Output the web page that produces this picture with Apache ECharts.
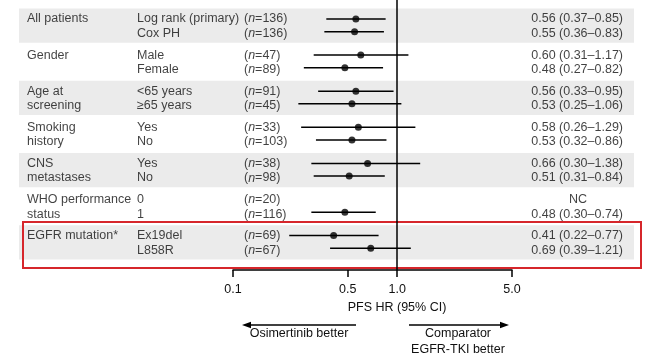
<!DOCTYPE html>
<html><head><meta charset="utf-8">
<script src="https://cdn.jsdelivr.net/npm/echarts@6/dist/echarts.min.js"></script>
<style>html,body{margin:0;padding:0;background:#fff}#c{width:650px;height:362px}</style>
</head><body><div id="c"></div><script>
// ---- data ----
const groupLabels = [['All patients'], ['Gender'], ['Age at', 'screening'], ['Smoking', 'history'], ['CNS', 'metastases'], ['WHO performance', 'status'], ['EGFR mutation*']];
const subgroups = [['Log rank (primary)', 'Cox PH'], ['Male', 'Female'], ['<65 years', '≥65 years'], ['Yes', 'No'], ['Yes', 'No'], ['0', '1'], ['Ex19del', 'L858R']];
const nValues = [[136, 136], [47, 89], [91, 45], [33, 103], [38, 98], [20, 116], [69, 67]];
const hrValues = [[0.56, 0.55], [0.60, 0.48], [0.56, 0.53], [0.58, 0.53], [0.66, 0.51], [null, 0.48], [0.41, 0.69]];
const ciLow = [[0.37, 0.36], [0.31, 0.27], [0.33, 0.25], [0.26, 0.32], [0.30, 0.31], [null, 0.30], [0.22, 0.39]];
const ciHigh = [[0.85, 0.83], [1.17, 0.82], [0.95, 1.06], [1.29, 0.86], [1.38, 0.84], [null, 0.74], [0.77, 1.21]];
const shadedGroups = [0, 2, 4, 6];
const highlightGroup = 6;
const tickValues = [0.1, 0.5, 1, 5];
const tickLabels = ['0.1', '0.5', '1.0', '5.0'];
const axisTitle = 'PFS HR (95% CI)';
const leftArrowText = 'Osimertinib better';
const rightArrowText = 'Comparator\nEGFR-TKI better';

// ---- layout ----
const FONT = '"Liberation Sans", Arial, Helvetica, sans-serif';
const FS = 12.5;
const TXT = '#111';
const PX_GROUP = 36.1, FIRST = 19, AXIS_Y = 270;
const yMin = -FIRST / PX_GROUP, yMax = (AXIS_Y - FIRST) / PX_GROUP;
const textOff = 0.405, dotOff = 0.35;
const colGroup = 27, colSub = 137, colN = 244, colRes = 623, colNC = 578;

const chart = echarts.init(document.getElementById('c'), null, {renderer: 'canvas'});

function textSeries(data, align) {
  return {
    type: 'scatter', xAxisIndex: 0, yAxisIndex: 0, symbolSize: 0, silent: true, z: 5,
    data: data,
    label: {
      show: true, position: 'inside', align: align, verticalAlign: 'middle',
      fontFamily: FONT, fontSize: FS, color: TXT, lineHeight: FS,
      formatter: p => p.data[2],
      rich: {i: {fontStyle: 'italic', fontFamily: FONT, fontSize: FS, color: TXT}}
    }
  };
}

const groupText = [], subText = [], nText = [], resText = [], ncText = [];
const ciData = [], dotData = [];
groupLabels.forEach((lines, g) => {
  lines.forEach((t, s) => groupText.push([colGroup, g + s * textOff, t]));
  subgroups[g].forEach((t, s) => {
    const y = g + s * textOff;
    subText.push([colSub, y, t]);
    nText.push([colN, y, '({i|n}=' + nValues[g][s] + ')']);
    if (hrValues[g][s] == null) {
      ncText.push([colNC, y, 'NC']);
    } else {
      resText.push([colRes, y, hrValues[g][s].toFixed(2) + ' (' + ciLow[g][s].toFixed(2) + '–' + ciHigh[g][s].toFixed(2) + ')']);
      ciData.push([ciLow[g][s], ciHigh[g][s], g + s * dotOff]);
      dotData.push([hrValues[g][s], g + s * dotOff]);
    }
  });
});

const bandAreas = shadedGroups.map(g => [{xAxis: 19, yAxis: g - 0.29}, {xAxis: 634, yAxis: g + 0.66}]);

const option = {
  animation: false,
  backgroundColor: '#fff',
  grid: [
    {left: 0, right: 0, top: 0, height: AXIS_Y},
    {left: 233, right: 138, top: 0, height: AXIS_Y}
  ],
  xAxis: [
    {gridIndex: 0, type: 'value', min: 0, max: 650, show: false},
    {gridIndex: 1, type: 'log', logBase: 10, min: 0.1, max: 5, position: 'bottom',
     axisLine: {show: true, onZero: false, lineStyle: {color: '#000', width: 1.5}},
     axisTick: {show: true, inside: false, length: 7, lineStyle: {color: '#000', width: 1.5}, customValues: tickValues},
     axisLabel: {show: true, margin: 13, fontFamily: FONT, fontSize: FS, color: TXT, customValues: tickValues,
                 formatter: v => { const i = tickValues.findIndex(t => Math.abs(t - v) < 1e-6); return i >= 0 ? tickLabels[i] : ''; }},
     splitLine: {show: false}, minorTick: {show: false}}
  ],
  yAxis: [
    {gridIndex: 0, type: 'value', inverse: true, min: yMin, max: yMax, show: false},
    {gridIndex: 1, type: 'value', inverse: true, min: yMin, max: yMax, show: false}
  ],
  series: [
    {type: 'scatter', xAxisIndex: 0, yAxisIndex: 0, data: [], silent: true, z: 1,
     markArea: {silent: true, itemStyle: {color: '#ebebeb'}, data: bandAreas}},
    {type: 'scatter', xAxisIndex: 0, yAxisIndex: 0, data: [], silent: true, z: 8,
     markArea: {silent: true, itemStyle: {color: 'rgba(0,0,0,0)', borderColor: '#d6262b', borderWidth: 2},
       data: [[{xAxis: 23, yAxis: highlightGroup - 0.377}, {xAxis: 641, yAxis: highlightGroup + 0.9}]]}},
    textSeries(groupText, 'left'),
    textSeries(subText, 'left'),
    textSeries(nText, 'left'),
    textSeries(resText, 'right'),
    textSeries(ncText, 'center'),
    {type: 'custom', xAxisIndex: 1, yAxisIndex: 1, data: ciData, silent: true, z: 6,
     encode: {x: [0, 1], y: 2},
     renderItem: (params, api) => {
       const a = api.coord([api.value(0), api.value(2)]);
       const b = api.coord([api.value(1), api.value(2)]);
       return {type: 'line', shape: {x1: a[0], y1: a[1], x2: b[0], y2: b[1]}, style: {stroke: '#000', lineWidth: 1.5}};
     }},
    {type: 'scatter', xAxisIndex: 1, yAxisIndex: 1, data: dotData, symbol: 'circle', symbolSize: 7, silent: true, z: 7,
     itemStyle: {color: '#000'},
     markLine: {silent: true, symbol: 'none', label: {show: false}, lineStyle: {color: '#000', width: 1.5, type: 'solid'},
       data: [{xAxis: 1}]}}
  ],
  graphic: [
    {type: 'text', silent: true, x: 397, y: 308,
     style: {text: axisTitle, font: FS + 'px ' + FONT, fill: TXT, align: 'center', verticalAlign: 'middle'}},
    {type: 'line', silent: true, shape: {x1: 249, y1: 325, x2: 356, y2: 325}, style: {stroke: '#000', lineWidth: 1.3}},
    {type: 'polygon', silent: true, shape: {points: [[242, 325], [251, 321.8], [251, 328.2]]}, style: {fill: '#000'}},
    {type: 'line', silent: true, shape: {x1: 409, y1: 325, x2: 502, y2: 325}, style: {stroke: '#000', lineWidth: 1.3}},
    {type: 'polygon', silent: true, shape: {points: [[509, 325], [500, 321.8], [500, 328.2]]}, style: {fill: '#000'}},
    {type: 'text', silent: true, x: 299, y: 334,
     style: {text: leftArrowText, font: FS + 'px ' + FONT, fill: TXT, align: 'center', verticalAlign: 'middle'}},
    {type: 'text', silent: true, x: 458, y: 341.5,
     style: {text: rightArrowText, font: FS + 'px ' + FONT, fill: TXT, align: 'center', verticalAlign: 'middle', lineHeight: 16}}
  ]
};
chart.setOption(option);
</script></body></html>
